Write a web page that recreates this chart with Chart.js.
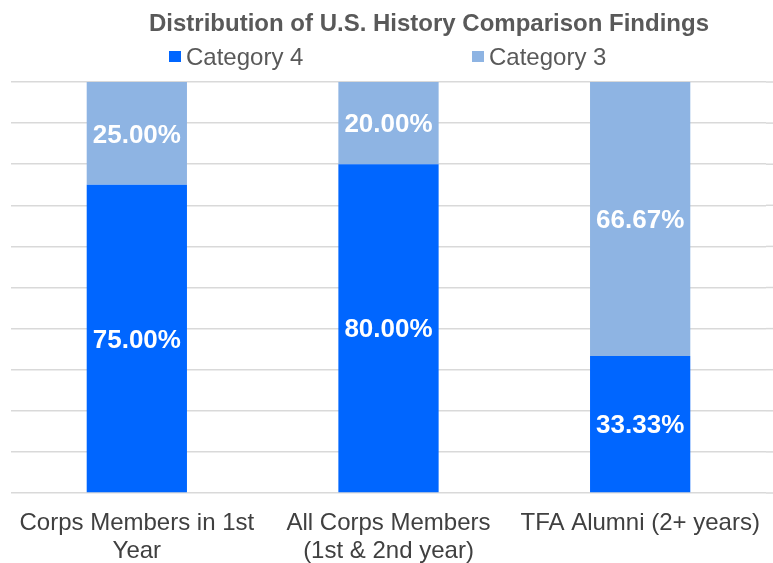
<!DOCTYPE html>
<html><head><meta charset="utf-8">
<script src="https://cdn.jsdelivr.net/npm/chart.js@4"></script>
<style>html,body{margin:0;padding:0;background:#fff}#wrap{width:773px;height:563px}</style>
</head><body><div id="wrap"><canvas id="c" width="773" height="563"></canvas></div>
<script>
const chartTitle = "Distribution of U.S. History Comparison Findings";
const categories = [["Corps Members in 1st", "Year"], ["All Corps Members", "(1st & 2nd year)"], ["TFA Alumni (2+ years)"]];
const seriesNames = ["Category 4", "Category 3"];
const category4 = [75.00, 80.00, 33.33];
const category3 = [25.00, 20.00, 66.67];
const yMin = 0, yMax = 100, yStep = 10;

const FONT = "'Liberation Sans', Arial, sans-serif";
const colors = ["#0066FF", "#8EB4E3"];

const headerPlugin = {
  id: 'header',
  afterDraw(chart) {
    const ctx = chart.ctx;
    ctx.save();
    ctx.fillStyle = '#595959';
    ctx.font = "bold 24px " + FONT;
    ctx.textAlign = 'center';
    ctx.textBaseline = 'alphabetic';
    ctx.fillText(chartTitle, 429, 31);
    const items = [{x: 169}, {x: 472}];
    ctx.font = "24px " + FONT;
    ctx.textAlign = 'left';
    chart.data.datasets.forEach((ds, i) => {
      const it = items[i];
      ctx.fillStyle = ds.backgroundColor;
      ctx.fillRect(it.x, 51, 12, 11);
      ctx.fillStyle = '#595959';
      ctx.fillText(ds.label, it.x + 17, 65);
    });
    ctx.restore();
  }
};

const gridExtend = {
  id: 'gridExtend',
  beforeDatasetsDraw(chart) {
    const ctx = chart.ctx, ys = chart.scales.y, area = chart.chartArea;
    ctx.save();
    ctx.strokeStyle = '#d9d9d9';
    ctx.lineWidth = 1.5;
    ys.ticks.forEach(t => {
      const y = ys.getPixelForValue(t.value);
      ctx.beginPath();
      ctx.moveTo(area.right, y);
      ctx.lineTo(chart.width, y);
      ctx.stroke();
    });
    ctx.restore();
  }
};

const valueLabels = {
  id: 'valueLabels',
  afterDatasetsDraw(chart) {
    const ctx = chart.ctx;
    ctx.save();
    ctx.fillStyle = '#ffffff';
    ctx.font = "bold 26px " + FONT;
    ctx.textAlign = 'center';
    ctx.textBaseline = 'middle';
    chart.data.datasets.forEach((ds, di) => {
      const meta = chart.getDatasetMeta(di);
      meta.data.forEach((el, i) => {
        const v = ds.data[i];
        const y = (el.y + el.base) / 2;
        ctx.fillText(v.toFixed(2) + '%', el.x, y + 2);
      });
    });
    ctx.restore();
  }
};

new Chart(document.getElementById('c'), {
  type: 'bar',
  data: {
    labels: categories,
    datasets: [
      {label: seriesNames[0], data: category4, backgroundColor: colors[0], barPercentage: 1, categoryPercentage: 0.3984},
      {label: seriesNames[1], data: category3, backgroundColor: colors[1], barPercentage: 1, categoryPercentage: 0.3984}
    ]
  },
  options: {
    responsive: false,
    animation: false,
    layout: {autoPadding: false, padding: {top: 82, left: 11, right: 7, bottom: 0}},
    plugins: {legend: {display: false}, title: {display: false}, tooltip: {enabled: false}},
    scales: {
      x: {
        stacked: true,
        grid: {display: false, drawTicks: false},
        border: {display: false},
        afterFit(scale) { scale.height = 70; scale.paddingLeft = 0; scale.paddingRight = 0; },
        ticks: {color: '#404040', font: {family: FONT, size: 24, lineHeight: 1.15}, padding: 17, maxRotation: 0, autoSkip: false}
      },
      y: {
        stacked: true,
        min: yMin, max: yMax,
        ticks: {display: false, stepSize: yStep},
        grid: {color: '#d9d9d9', lineWidth: 1.5, drawTicks: false},
        border: {display: false}
      }
    }
  },
  plugins: [gridExtend, valueLabels, headerPlugin]
});
</script></body></html>
